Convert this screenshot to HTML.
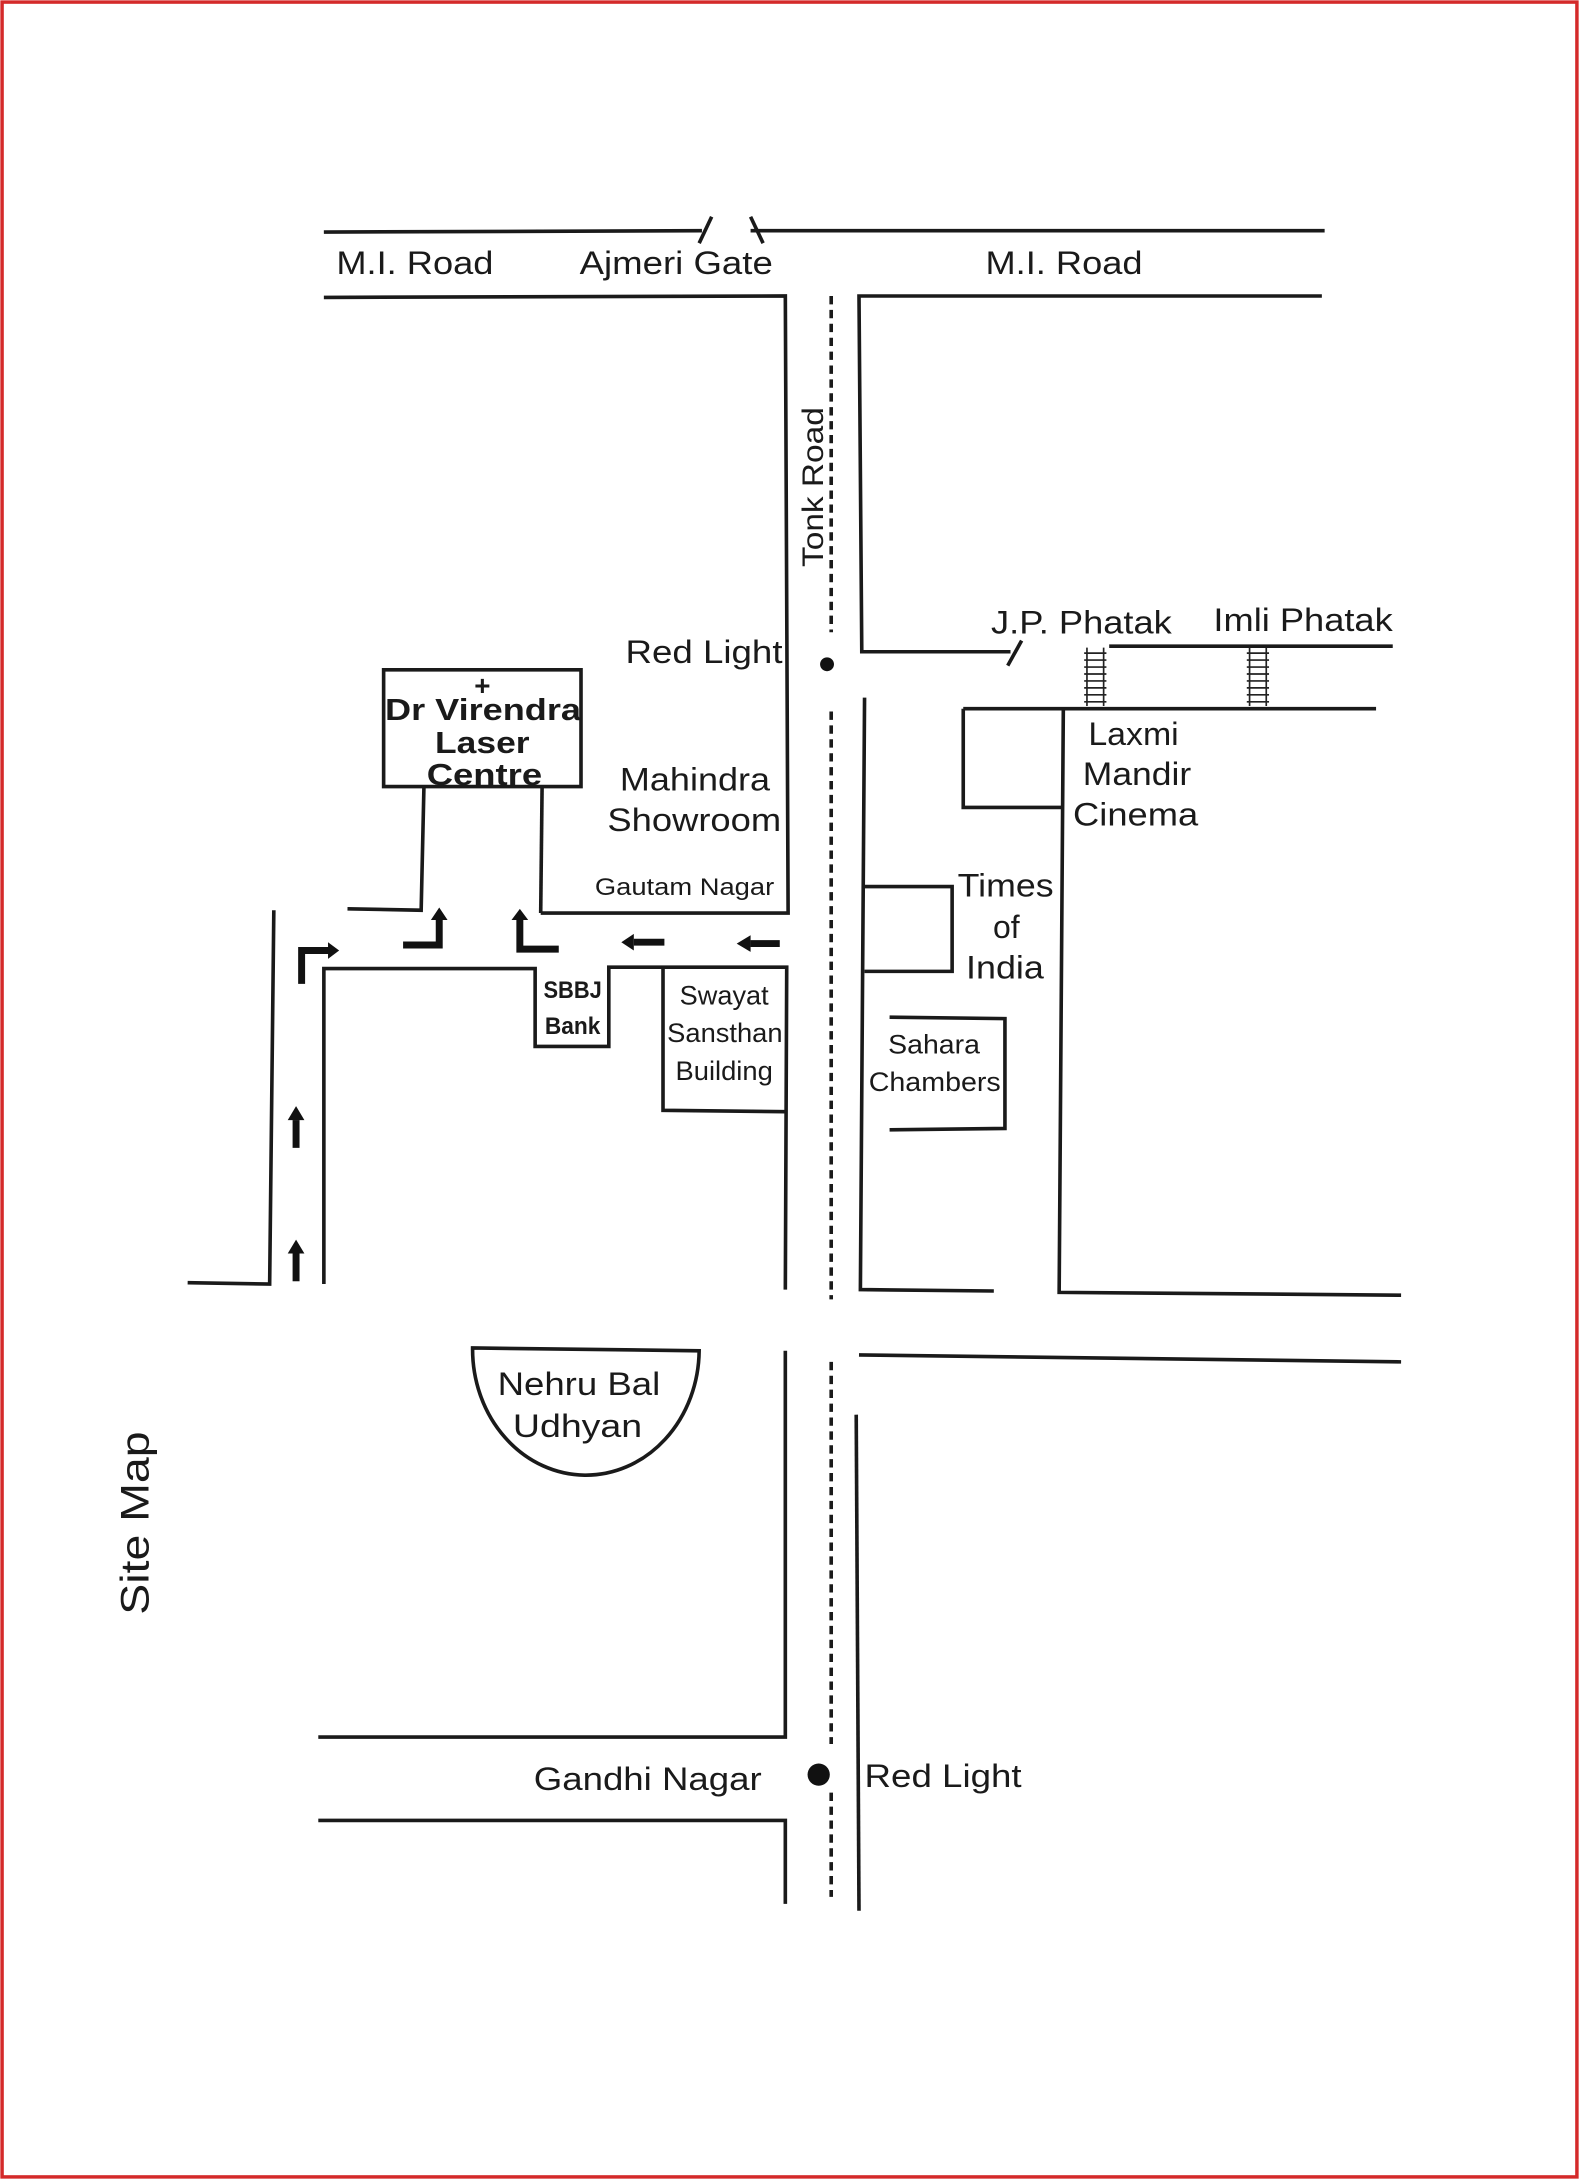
<!DOCTYPE html>
<html><head><style>html,body{margin:0;padding:0;background:#fff}svg{display:block}</style></head><body>
<svg width="1579" height="2179" viewBox="0 0 1136 1568" preserveAspectRatio="none" xmlns="http://www.w3.org/2000/svg" font-family="Liberation Sans, sans-serif">
<rect x="1.5" y="1.5" width="1133" height="1565" fill="#fff" stroke="#d42a2a" stroke-width="2.5"/>
<g stroke="#1a1a1a" stroke-width="2.6" fill="none">
<path d="M233 167 L505 166"/><path d="M512 156 L503 175"/><path d="M540 156 L549 175"/><path d="M540 166 L953 166"/>
<path d="M233 214 L565 213 L567 657 L389 657"/>
<path d="M951 213 L618 213 L620 469 L727 469"/><path d="M735 461 L725 479"/>
<path d="M798 465 L1002 465"/><path d="M693 510 L990 510"/>
<path d="M693 510 L693 581 L765 581"/><path d="M765 510 L762 930 L1008 932"/>
<path d="M276 482 H418 V566 H276 Z"/>
<path d="M305 566 L303 655 L250 654"/><path d="M390 566 L389 657"/>
<path d="M233 924 L233 697 L385 697 L385 753 L438 753 L438 696 L566 696 L565 928"/>
<path d="M477 697 L477 799 L565 800"/>
<path d="M197 655 L194 924 L135 923"/>
<path d="M622 502 L619 928 L715 929"/>
<path d="M622 638 L685 638 L685 699 L622 699"/>
<path d="M640 732 L723 733 L723 812 L640 813"/>
<path d="M618 975 L1008 980"/><path d="M616 1018 L618 1375"/>
<path d="M565 972 L565 1250 L229 1250"/><path d="M229 1310 L565 1310 L565 1370"/>
<path d="M340 970 L503 972 A81 90 0 0 1 340 970 Z"/>
</g>
<g stroke="#1a1a1a" stroke-width="2.6" stroke-dasharray="6,4">
<path d="M598 213 V455"/><path d="M598 512 V935"/><path d="M598 980 V1255"/><path d="M598 1290 V1365"/>
</g>
<g stroke="#222" stroke-width="1.2">
<path d="M780 470h16M780 475h16M780 480h16M780 485h16M780 490h16M780 495h16M780 500h16M780 505h16"/>
<path d="M782 466v42M794 466v42"/>
<path d="M897 470h16M897 475h16M897 480h16M897 485h16M897 490h16M897 495h16M897 500h16M897 505h16"/>
<path d="M899 466v42M911 466v42"/>
</g>
<circle cx="595" cy="478" r="5" fill="#111"/>
<circle cx="589" cy="1277" r="8" fill="#111"/>
<g stroke="#111" stroke-width="5" fill="none">
<path d="M217 708 V684 H237"/><path d="M290 680 H316 V662"/><path d="M402 683 H374 V662"/>
<path d="M213 922 V902"/><path d="M213 826 V806"/>
<path d="M478 678 H456"/><path d="M561 679 H540"/>
</g>
<g fill="#111">
<path d="M236 678 L244 684 L236 690Z"/><path d="M310 662 L316 653 L322 662Z"/><path d="M368 662 L374 654 L380 662Z"/>
<path d="M207 902 L213 892 L219 902Z"/><path d="M207 806 L213 796 L219 806Z"/>
<path d="M456 672 L447 678 L456 684Z"/><path d="M540 673 L530 679 L540 685Z"/>
</g>
<g fill="#1a1a1a" font-size="23" lengthAdjust="spacingAndGlyphs">
<text x="242" y="197" textLength="113" lengthAdjust="spacingAndGlyphs">M.I. Road</text>
<text x="417" y="197" textLength="139" lengthAdjust="spacingAndGlyphs">Ajmeri Gate</text>
<text x="709" y="197" textLength="113" lengthAdjust="spacingAndGlyphs">M.I. Road</text>
<text transform="translate(592,408) rotate(-90)" font-size="21" textLength="115" lengthAdjust="spacingAndGlyphs">Tonk Road</text>
<text x="713" y="456" textLength="130" lengthAdjust="spacingAndGlyphs">J.P. Phatak</text>
<text x="873" y="454" textLength="129" lengthAdjust="spacingAndGlyphs">Imli Phatak</text>
<text x="450" y="477" textLength="113" lengthAdjust="spacingAndGlyphs">Red Light</text>
<text x="446" y="569" textLength="108" lengthAdjust="spacingAndGlyphs">Mahindra</text>
<text x="437" y="598" textLength="125" lengthAdjust="spacingAndGlyphs">Showroom</text>
<text x="428" y="644" font-size="17" textLength="129" lengthAdjust="spacingAndGlyphs">Gautam Nagar</text>
<text x="783" y="536" textLength="65" lengthAdjust="spacingAndGlyphs">Laxmi</text>
<text x="779" y="565" textLength="78" lengthAdjust="spacingAndGlyphs">Mandir</text>
<text x="772" y="594" textLength="90" lengthAdjust="spacingAndGlyphs">Cinema</text>
<text x="689" y="645" textLength="69" lengthAdjust="spacingAndGlyphs">Times</text>
<text x="724" y="675" text-anchor="middle">of</text>
<text x="695" y="704" textLength="56" lengthAdjust="spacingAndGlyphs">India</text>
<text x="639" y="758" font-size="19" textLength="66" lengthAdjust="spacingAndGlyphs">Sahara</text>
<text x="625" y="785" font-size="19" textLength="95" lengthAdjust="spacingAndGlyphs">Chambers</text>
<text x="489" y="723" font-size="19" textLength="64" lengthAdjust="spacingAndGlyphs">Swayat</text>
<text x="480" y="750" font-size="19" textLength="83" lengthAdjust="spacingAndGlyphs">Sansthan</text>
<text x="486" y="777" font-size="19" textLength="70" lengthAdjust="spacingAndGlyphs">Building</text>
<text x="391" y="718" font-size="17" font-weight="bold" textLength="42" lengthAdjust="spacingAndGlyphs">SBBJ</text>
<text x="392" y="744" font-size="17" font-weight="bold" textLength="40" lengthAdjust="spacingAndGlyphs">Bank</text>
<text x="347" y="500" text-anchor="middle" font-size="20" font-weight="bold">+</text>
<text x="277" y="518" font-size="22" font-weight="bold" textLength="141" lengthAdjust="spacingAndGlyphs">Dr Virendra</text>
<text x="313" y="542" font-size="22" font-weight="bold" textLength="68" lengthAdjust="spacingAndGlyphs">Laser</text>
<text x="307" y="565" font-size="22" font-weight="bold" textLength="83" lengthAdjust="spacingAndGlyphs">Centre</text>
<text x="358" y="1004" textLength="117" lengthAdjust="spacingAndGlyphs">Nehru Bal</text>
<text x="369" y="1034" textLength="93" lengthAdjust="spacingAndGlyphs">Udhyan</text>
<text x="384" y="1288" textLength="164" lengthAdjust="spacingAndGlyphs">Gandhi Nagar</text>
<text x="622" y="1286" textLength="113" lengthAdjust="spacingAndGlyphs">Red Light</text>
<text transform="translate(107,1162) rotate(-90)" font-size="29" textLength="132" lengthAdjust="spacingAndGlyphs">Site Map</text>
</g>
</svg>
</body></html>
